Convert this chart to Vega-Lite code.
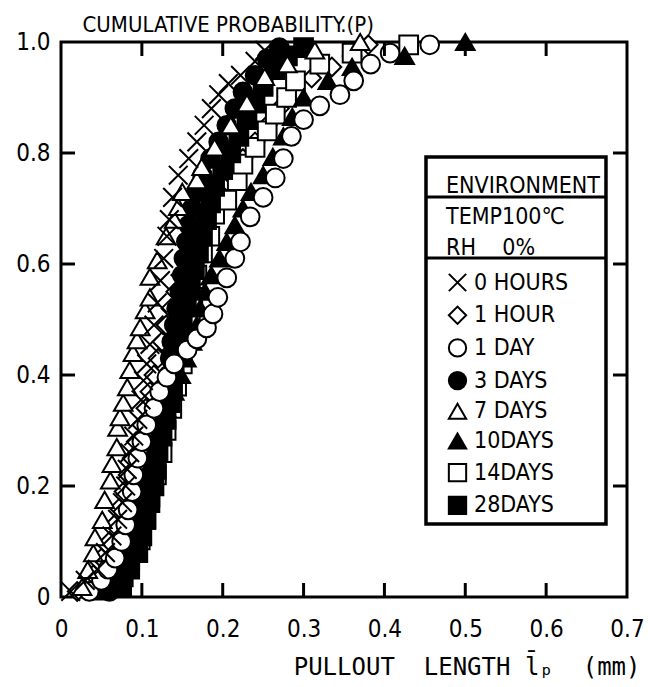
{
  "$schema": "https://vega.github.io/schema/vega-lite/v6.json",
  "width": 566,
  "height": 555,
  "autosize": "none",
  "padding": {"left": 61, "top": 42, "right": 21, "bottom": 90},
  "background": "white",
  "config": {
    "view": {"stroke": "black", "strokeWidth": 3},
    "font": "DejaVu Sans Condensed, DejaVu Sans",
    "axis": {
      "labelColor": "black", "labelFontSize": 24, "labelFont": "DejaVu Sans Condensed, DejaVu Sans",
      "labelFlush": false, "labelOverlap": false, "labelBound": false,
      "titleColor": "black", "titleFontWeight": "normal"
    },
    "legend": {
      "titleColor": "black", "labelColor": "black", "titleFontWeight": "normal",
      "titleFont": "DejaVu Sans Condensed, DejaVu Sans",
      "labelFont": "DejaVu Sans Condensed, DejaVu Sans",
      "symbolStrokeColor": "black"
    }
  },
  "data": {"values": [
    {"g":"1 HOUR","x":0.02,"y":0.01},{"g":"1 HOUR","x":0.04,"y":0.04},{"g":"1 HOUR","x":0.05,"y":0.07},{"g":"1 HOUR","x":0.06,"y":0.1},{"g":"1 HOUR","x":0.066,"y":0.13},{"g":"1 HOUR","x":0.072,"y":0.16},{"g":"1 HOUR","x":0.078,"y":0.19},{"g":"1 HOUR","x":0.083,"y":0.22},{"g":"1 HOUR","x":0.088,"y":0.25},{"g":"1 HOUR","x":0.093,"y":0.28},{"g":"1 HOUR","x":0.1,"y":0.31},{"g":"1 HOUR","x":0.105,"y":0.34},{"g":"1 HOUR","x":0.11,"y":0.37},{"g":"1 HOUR","x":0.115,"y":0.4},{"g":"1 HOUR","x":0.12,"y":0.43},{"g":"1 HOUR","x":0.125,"y":0.46},{"g":"1 HOUR","x":0.13,"y":0.49},{"g":"1 HOUR","x":0.136,"y":0.52},{"g":"1 HOUR","x":0.142,"y":0.55},{"g":"1 HOUR","x":0.148,"y":0.58},{"g":"1 HOUR","x":0.155,"y":0.61},{"g":"1 HOUR","x":0.163,"y":0.64},{"g":"1 HOUR","x":0.172,"y":0.67},{"g":"1 HOUR","x":0.182,"y":0.7},{"g":"1 HOUR","x":0.195,"y":0.73},{"g":"1 HOUR","x":0.21,"y":0.76},{"g":"1 HOUR","x":0.225,"y":0.79},{"g":"1 HOUR","x":0.24,"y":0.82},{"g":"1 HOUR","x":0.255,"y":0.85},{"g":"1 HOUR","x":0.27,"y":0.88},{"g":"1 HOUR","x":0.29,"y":0.91},{"g":"1 HOUR","x":0.31,"y":0.935},{"g":"1 HOUR","x":0.335,"y":0.955},{"g":"1 HOUR","x":0.36,"y":0.975},{"g":"1 HOUR","x":0.38,"y":0.995},
    {"g":"14DAYS","x":0.077,"y":0.036},{"g":"14DAYS","x":0.085,"y":0.067},{"g":"14DAYS","x":0.098,"y":0.103},{"g":"14DAYS","x":0.105,"y":0.14},{"g":"14DAYS","x":0.11,"y":0.18},{"g":"14DAYS","x":0.118,"y":0.22},{"g":"14DAYS","x":0.125,"y":0.26},{"g":"14DAYS","x":0.13,"y":0.3},{"g":"14DAYS","x":0.137,"y":0.34},{"g":"14DAYS","x":0.143,"y":0.38},{"g":"14DAYS","x":0.15,"y":0.42},{"g":"14DAYS","x":0.155,"y":0.46},{"g":"14DAYS","x":0.16,"y":0.5},{"g":"14DAYS","x":0.163,"y":0.54},{"g":"14DAYS","x":0.168,"y":0.58},{"g":"14DAYS","x":0.175,"y":0.62},{"g":"14DAYS","x":0.184,"y":0.65},{"g":"14DAYS","x":0.19,"y":0.69},{"g":"14DAYS","x":0.205,"y":0.715},{"g":"14DAYS","x":0.218,"y":0.75},{"g":"14DAYS","x":0.225,"y":0.78},{"g":"14DAYS","x":0.24,"y":0.81},{"g":"14DAYS","x":0.255,"y":0.84},{"g":"14DAYS","x":0.265,"y":0.87},{"g":"14DAYS","x":0.279,"y":0.9},{"g":"14DAYS","x":0.29,"y":0.93},{"g":"14DAYS","x":0.32,"y":0.96},{"g":"14DAYS","x":0.36,"y":0.98},{"g":"14DAYS","x":0.43,"y":0.995},
    {"g":"10DAYS","x":0.05,"y":0.01},{"g":"10DAYS","x":0.06,"y":0.04},{"g":"10DAYS","x":0.068,"y":0.07},{"g":"10DAYS","x":0.078,"y":0.1},{"g":"10DAYS","x":0.085,"y":0.13},{"g":"10DAYS","x":0.092,"y":0.16},{"g":"10DAYS","x":0.1,"y":0.19},{"g":"10DAYS","x":0.105,"y":0.22},{"g":"10DAYS","x":0.11,"y":0.25},{"g":"10DAYS","x":0.115,"y":0.28},{"g":"10DAYS","x":0.122,"y":0.31},{"g":"10DAYS","x":0.13,"y":0.34},{"g":"10DAYS","x":0.14,"y":0.37},{"g":"10DAYS","x":0.148,"y":0.4},{"g":"10DAYS","x":0.155,"y":0.43},{"g":"10DAYS","x":0.162,"y":0.46},{"g":"10DAYS","x":0.168,"y":0.49},{"g":"10DAYS","x":0.172,"y":0.52},{"g":"10DAYS","x":0.178,"y":0.55},{"g":"10DAYS","x":0.186,"y":0.58},{"g":"10DAYS","x":0.196,"y":0.61},{"g":"10DAYS","x":0.205,"y":0.64},{"g":"10DAYS","x":0.215,"y":0.67},{"g":"10DAYS","x":0.225,"y":0.7},{"g":"10DAYS","x":0.235,"y":0.73},{"g":"10DAYS","x":0.25,"y":0.76},{"g":"10DAYS","x":0.262,"y":0.793},{"g":"10DAYS","x":0.275,"y":0.83},{"g":"10DAYS","x":0.286,"y":0.865},{"g":"10DAYS","x":0.3,"y":0.9},{"g":"10DAYS","x":0.33,"y":0.93},{"g":"10DAYS","x":0.36,"y":0.955},{"g":"10DAYS","x":0.425,"y":0.975},{"g":"10DAYS","x":0.5,"y":1.0},
    {"g":"3 DAYS","x":0.06,"y":0.01},{"g":"3 DAYS","x":0.07,"y":0.04},{"g":"3 DAYS","x":0.075,"y":0.07},{"g":"3 DAYS","x":0.085,"y":0.1},{"g":"3 DAYS","x":0.09,"y":0.13},{"g":"3 DAYS","x":0.097,"y":0.16},{"g":"3 DAYS","x":0.105,"y":0.19},{"g":"3 DAYS","x":0.11,"y":0.22},{"g":"3 DAYS","x":0.115,"y":0.25},{"g":"3 DAYS","x":0.12,"y":0.28},{"g":"3 DAYS","x":0.125,"y":0.31},{"g":"3 DAYS","x":0.128,"y":0.34},{"g":"3 DAYS","x":0.13,"y":0.37},{"g":"3 DAYS","x":0.133,"y":0.4},{"g":"3 DAYS","x":0.135,"y":0.43},{"g":"3 DAYS","x":0.137,"y":0.46},{"g":"3 DAYS","x":0.14,"y":0.49},{"g":"3 DAYS","x":0.143,"y":0.52},{"g":"3 DAYS","x":0.147,"y":0.55},{"g":"3 DAYS","x":0.15,"y":0.58},{"g":"3 DAYS","x":0.152,"y":0.61},{"g":"3 DAYS","x":0.155,"y":0.64},{"g":"3 DAYS","x":0.158,"y":0.67},{"g":"3 DAYS","x":0.162,"y":0.7},{"g":"3 DAYS","x":0.168,"y":0.73},{"g":"3 DAYS","x":0.175,"y":0.76},{"g":"3 DAYS","x":0.185,"y":0.79},{"g":"3 DAYS","x":0.195,"y":0.82},{"g":"3 DAYS","x":0.205,"y":0.85},{"g":"3 DAYS","x":0.215,"y":0.88},{"g":"3 DAYS","x":0.225,"y":0.91},{"g":"3 DAYS","x":0.24,"y":0.94},{"g":"3 DAYS","x":0.255,"y":0.97},{"g":"3 DAYS","x":0.27,"y":0.99},
    {"g":"28DAYS","x":0.075,"y":0.02},{"g":"28DAYS","x":0.085,"y":0.05},{"g":"28DAYS","x":0.095,"y":0.08},{"g":"28DAYS","x":0.1,"y":0.11},{"g":"28DAYS","x":0.105,"y":0.14},{"g":"28DAYS","x":0.11,"y":0.17},{"g":"28DAYS","x":0.115,"y":0.2},{"g":"28DAYS","x":0.118,"y":0.23},{"g":"28DAYS","x":0.12,"y":0.26},{"g":"28DAYS","x":0.125,"y":0.29},{"g":"28DAYS","x":0.13,"y":0.32},{"g":"28DAYS","x":0.135,"y":0.35},{"g":"28DAYS","x":0.138,"y":0.38},{"g":"28DAYS","x":0.14,"y":0.41},{"g":"28DAYS","x":0.143,"y":0.44},{"g":"28DAYS","x":0.145,"y":0.47},{"g":"28DAYS","x":0.15,"y":0.5},{"g":"28DAYS","x":0.155,"y":0.53},{"g":"28DAYS","x":0.16,"y":0.56},{"g":"28DAYS","x":0.165,"y":0.59},{"g":"28DAYS","x":0.17,"y":0.62},{"g":"28DAYS","x":0.175,"y":0.65},{"g":"28DAYS","x":0.18,"y":0.68},{"g":"28DAYS","x":0.185,"y":0.71},{"g":"28DAYS","x":0.19,"y":0.74},{"g":"28DAYS","x":0.2,"y":0.77},{"g":"28DAYS","x":0.21,"y":0.8},{"g":"28DAYS","x":0.22,"y":0.83},{"g":"28DAYS","x":0.23,"y":0.86},{"g":"28DAYS","x":0.24,"y":0.89},{"g":"28DAYS","x":0.25,"y":0.92},{"g":"28DAYS","x":0.265,"y":0.95},{"g":"28DAYS","x":0.28,"y":0.975},{"g":"28DAYS","x":0.3,"y":0.99},
    {"g":"1 DAY","x":0.035,"y":0.01},{"g":"1 DAY","x":0.05,"y":0.03},{"g":"1 DAY","x":0.058,"y":0.05},{"g":"1 DAY","x":0.067,"y":0.07},{"g":"1 DAY","x":0.075,"y":0.1},{"g":"1 DAY","x":0.08,"y":0.13},{"g":"1 DAY","x":0.083,"y":0.157},{"g":"1 DAY","x":0.088,"y":0.19},{"g":"1 DAY","x":0.09,"y":0.22},{"g":"1 DAY","x":0.095,"y":0.25},{"g":"1 DAY","x":0.1,"y":0.28},{"g":"1 DAY","x":0.106,"y":0.31},{"g":"1 DAY","x":0.115,"y":0.34},{"g":"1 DAY","x":0.122,"y":0.37},{"g":"1 DAY","x":0.131,"y":0.396},{"g":"1 DAY","x":0.14,"y":0.42},{"g":"1 DAY","x":0.156,"y":0.445},{"g":"1 DAY","x":0.168,"y":0.465},{"g":"1 DAY","x":0.18,"y":0.485},{"g":"1 DAY","x":0.188,"y":0.51},{"g":"1 DAY","x":0.194,"y":0.54},{"g":"1 DAY","x":0.205,"y":0.575},{"g":"1 DAY","x":0.215,"y":0.61},{"g":"1 DAY","x":0.222,"y":0.64},{"g":"1 DAY","x":0.234,"y":0.685},{"g":"1 DAY","x":0.25,"y":0.72},{"g":"1 DAY","x":0.265,"y":0.755},{"g":"1 DAY","x":0.275,"y":0.79},{"g":"1 DAY","x":0.285,"y":0.83},{"g":"1 DAY","x":0.3,"y":0.86},{"g":"1 DAY","x":0.32,"y":0.885},{"g":"1 DAY","x":0.345,"y":0.905},{"g":"1 DAY","x":0.362,"y":0.93},{"g":"1 DAY","x":0.383,"y":0.96},{"g":"1 DAY","x":0.407,"y":0.98},{"g":"1 DAY","x":0.456,"y":0.995},
    {"g":"7 DAYS","x":0.026,"y":0.018},{"g":"7 DAYS","x":0.033,"y":0.049},{"g":"7 DAYS","x":0.04,"y":0.079},{"g":"7 DAYS","x":0.042,"y":0.108},{"g":"7 DAYS","x":0.051,"y":0.139},{"g":"7 DAYS","x":0.054,"y":0.175},{"g":"7 DAYS","x":0.061,"y":0.21},{"g":"7 DAYS","x":0.063,"y":0.24},{"g":"7 DAYS","x":0.069,"y":0.27},{"g":"7 DAYS","x":0.07,"y":0.305},{"g":"7 DAYS","x":0.073,"y":0.324},{"g":"7 DAYS","x":0.077,"y":0.35},{"g":"7 DAYS","x":0.082,"y":0.378},{"g":"7 DAYS","x":0.085,"y":0.409},{"g":"7 DAYS","x":0.089,"y":0.44},{"g":"7 DAYS","x":0.094,"y":0.463},{"g":"7 DAYS","x":0.098,"y":0.486},{"g":"7 DAYS","x":0.104,"y":0.517},{"g":"7 DAYS","x":0.11,"y":0.54},{"g":"7 DAYS","x":0.11,"y":0.577},{"g":"7 DAYS","x":0.119,"y":0.607},{"g":"7 DAYS","x":0.13,"y":0.65},{"g":"7 DAYS","x":0.14,"y":0.68},{"g":"7 DAYS","x":0.145,"y":0.703},{"g":"7 DAYS","x":0.15,"y":0.73},{"g":"7 DAYS","x":0.168,"y":0.751},{"g":"7 DAYS","x":0.174,"y":0.775},{"g":"7 DAYS","x":0.19,"y":0.81},{"g":"7 DAYS","x":0.21,"y":0.85},{"g":"7 DAYS","x":0.23,"y":0.89},{"g":"7 DAYS","x":0.252,"y":0.937},{"g":"7 DAYS","x":0.28,"y":0.96},{"g":"7 DAYS","x":0.314,"y":0.985},{"g":"7 DAYS","x":0.37,"y":1.0},
    {"g":"0 HOURS","x":0.012,"y":0.01},{"g":"0 HOURS","x":0.03,"y":0.03},{"g":"0 HOURS","x":0.045,"y":0.05},{"g":"0 HOURS","x":0.055,"y":0.08},{"g":"0 HOURS","x":0.063,"y":0.11},{"g":"0 HOURS","x":0.07,"y":0.14},{"g":"0 HOURS","x":0.076,"y":0.17},{"g":"0 HOURS","x":0.08,"y":0.2},{"g":"0 HOURS","x":0.082,"y":0.23},{"g":"0 HOURS","x":0.085,"y":0.26},{"g":"0 HOURS","x":0.09,"y":0.29},{"g":"0 HOURS","x":0.095,"y":0.32},{"g":"0 HOURS","x":0.099,"y":0.355},{"g":"0 HOURS","x":0.102,"y":0.39},{"g":"0 HOURS","x":0.106,"y":0.42},{"g":"0 HOURS","x":0.11,"y":0.455},{"g":"0 HOURS","x":0.115,"y":0.49},{"g":"0 HOURS","x":0.119,"y":0.53},{"g":"0 HOURS","x":0.123,"y":0.57},{"g":"0 HOURS","x":0.127,"y":0.61},{"g":"0 HOURS","x":0.131,"y":0.65},{"g":"0 HOURS","x":0.134,"y":0.68},{"g":"0 HOURS","x":0.138,"y":0.72},{"g":"0 HOURS","x":0.145,"y":0.76},{"g":"0 HOURS","x":0.158,"y":0.79},{"g":"0 HOURS","x":0.168,"y":0.82},{"g":"0 HOURS","x":0.177,"y":0.85},{"g":"0 HOURS","x":0.186,"y":0.88},{"g":"0 HOURS","x":0.195,"y":0.905},{"g":"0 HOURS","x":0.207,"y":0.925},{"g":"0 HOURS","x":0.222,"y":0.94},{"g":"0 HOURS","x":0.24,"y":0.965},{"g":"0 HOURS","x":0.252,"y":0.985}
  ]},
  "layer": [
    {
      "mark": {"type": "point", "filled": true, "strokeWidth": 2, "size": 350, "opacity": 1},
      "encoding": {
        "x": {"field": "x", "type": "quantitative", "scale": {"domain": [0, 0.7], "nice": false},
              "axis": {"orient": "bottom", "values": [0, 0.1, 0.2, 0.3, 0.4, 0.5, 0.6, 0.7],
                       "domain": false, "ticks": false, "grid": false,
                       "labelExpr": "datum.value == 0 ? '0' : format(datum.value, '.1f')",
                       "labelPadding": 20,
                       "title": "PULLOUT\u00a0\u00a0LENGTH\u00a0l̄ₚ\u00a0\u00a0(mm)", "titleFont": "DejaVu Sans Mono", "titleFontSize": 24,
                       "titleAlign": "right", "titleBaseline": "alphabetic", "titleX": 579, "titleY": 77}},
        "y": {"field": "y", "type": "quantitative", "scale": {"domain": [0, 1], "nice": false},
              "axis": {"orient": "left", "values": [0, 0.2, 0.4, 0.6, 0.8, 1],
                       "domain": false, "ticks": false, "grid": false,
                       "labelExpr": "datum.value == 0 ? '0' : format(datum.value, '.1f')",
                       "labelPadding": 11,
                       "title": "CUMULATIVE PROBABILITY.(P)", "titleFontSize": 22, "titleAngle": 0,
                       "titleAlign": "left", "titleBaseline": "alphabetic", "titleX": 21, "titleY": -11}},
        "shape": {"field": "g", "type": "nominal",
                  "scale": {"domain": ["0 HOURS", "1 HOUR", "1 DAY", "3 DAYS", "7 DAYS", "10DAYS", "14DAYS", "28DAYS"],
                            "range": ["M-1,-1L1,1M-1,1L1,-1", "diamond", "circle", "circle", "triangle-up", "triangle-up", "square", "square"]},
                  "legend": {"orient": "none", "legendX": 385, "legendY": 133, "title": ["ENVIRONMENT", "TEMP100℃", "RH\u00a0\u00a0\u00a0\u00a00%"],
                             "titleFontSize": 23, "titleLineHeight": 31, "titlePadding": 11, "labelFontSize": 23, "symbolSize": 300,
                             "symbolStrokeWidth": 2, "rowPadding": 5.7, "labelOffset": 5, "padding": 0}},
        "fill": {"field": "g", "type": "nominal",
                 "scale": {"domain": ["0 HOURS", "1 HOUR", "1 DAY", "3 DAYS", "7 DAYS", "10DAYS", "14DAYS", "28DAYS"],
                           "range": ["white", "white", "white", "black", "white", "black", "white", "black"]},
                 "legend": {"orient": "none", "legendX": 385, "legendY": 133, "title": ["ENVIRONMENT", "TEMP100℃", "RH\u00a0\u00a0\u00a0\u00a00%"],
                            "titleFontSize": 23, "titleLineHeight": 31, "titlePadding": 11, "labelFontSize": 23, "symbolSize": 300,
                            "symbolStrokeWidth": 2, "rowPadding": 5.7, "labelOffset": 5, "padding": 0}},
        "stroke": {"field": "g", "type": "nominal",
                   "scale": {"domain": ["0 HOURS", "1 HOUR", "1 DAY", "3 DAYS", "7 DAYS", "10DAYS", "14DAYS", "28DAYS"],
                             "range": ["black", "black", "black", "black", "black", "black", "black", "black"]},
                   "legend": {"orient": "none", "legendX": 385, "legendY": 133, "title": ["ENVIRONMENT", "TEMP100℃", "RH\u00a0\u00a0\u00a0\u00a00%"],
                              "titleFontSize": 23, "titleLineHeight": 31, "titlePadding": 11, "labelFontSize": 23, "symbolSize": 300,
                              "symbolStrokeWidth": 2, "rowPadding": 5.7, "labelOffset": 5, "padding": 0}}
      }
    },
    {
      "data": {"values": [{"v": 0.1}, {"v": 0.2}, {"v": 0.3}, {"v": 0.4}, {"v": 0.5}, {"v": 0.6}]},
      "mark": {"type": "rule", "color": "black", "stroke": "black", "strokeWidth": 3},
      "encoding": {
        "x": {"field": "v", "type": "quantitative"},
        "y": {"datum": 0, "type": "quantitative"},
        "y2": {"datum": 0.0252}
      }
    },
    {
      "data": {"values": [{"v": 0.1}, {"v": 0.2}, {"v": 0.3}, {"v": 0.4}, {"v": 0.5}, {"v": 0.6}]},
      "mark": {"type": "rule", "color": "black", "stroke": "black", "strokeWidth": 3},
      "encoding": {
        "x": {"field": "v", "type": "quantitative"},
        "y": {"datum": 1, "type": "quantitative"},
        "y2": {"datum": 0.9748}
      }
    },
    {
      "data": {"values": [{"v": 0.2}, {"v": 0.4}, {"v": 0.6}, {"v": 0.8}]},
      "mark": {"type": "rule", "color": "black", "stroke": "black", "strokeWidth": 3},
      "encoding": {
        "y": {"field": "v", "type": "quantitative"},
        "x": {"datum": 0, "type": "quantitative"},
        "x2": {"datum": 0.0173}
      }
    },
    {
      "data": {"values": [{"v": 0.2}, {"v": 0.4}, {"v": 0.6}, {"v": 0.8}]},
      "mark": {"type": "rule", "color": "black", "stroke": "black", "strokeWidth": 3},
      "encoding": {
        "y": {"field": "v", "type": "quantitative"},
        "x": {"datum": 0.7, "type": "quantitative"},
        "x2": {"datum": 0.6827}
      }
    },
    {
      "data": {"values": [{}]},
      "mark": {"type": "rect", "fill": "white", "stroke": "black", "strokeWidth": 3.5},
      "encoding": {
        "x": {"datum": 0.4514, "type": "quantitative"},
        "x2": {"datum": 0.674},
        "y": {"datum": 0.7928, "type": "quantitative"},
        "y2": {"datum": 0.1315}
      }
    },
    {
      "data": {"values": [{"k": 1}]},
      "mark": {"type": "rule", "stroke": "black", "strokeWidth": 3},
      "encoding": {
        "x": {"datum": 0.4514, "type": "quantitative"},
        "x2": {"datum": 0.674},
        "y": {"datum": 0.7207, "type": "quantitative"}
      }
    },
    {
      "data": {"values": [{"k": 2}]},
      "mark": {"type": "rule", "stroke": "black", "strokeWidth": 3},
      "encoding": {
        "x": {"datum": 0.4514, "type": "quantitative"},
        "x2": {"datum": 0.674},
        "y": {"datum": 0.6108, "type": "quantitative"}
      }
    }
  ]
}
